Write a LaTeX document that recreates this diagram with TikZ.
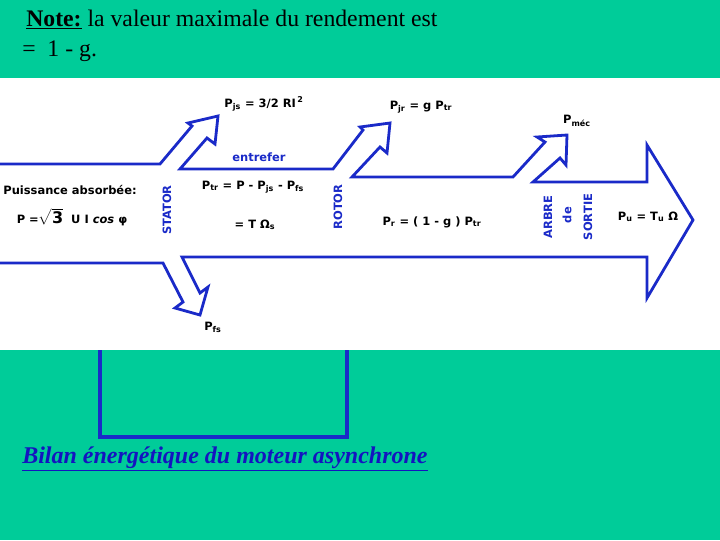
\documentclass[tikz,border=0pt]{standalone}
\usepackage{fontspec}
\setmainfont{Liberation Serif}
\newfontfamily\lblfont{DejaVu Sans}
\usetikzlibrary{positioning}
\definecolor{bgTeal}{HTML}{00CC99}
\definecolor{lineBlue}{HTML}{1A2AC8}
\definecolor{textBlue}{HTML}{1414C0}
\newcommand\idx[1]{\textsubscript{#1}}
\tikzset{
    NoteText/.style={font=\fontsize{17.8}{21}\selectfont, anchor=base west, inner sep=0pt},
    CaptionText/.style={font=\fontsize{18}{21}\selectfont\bfseries\itshape, text=textBlue, anchor=base west, inner sep=0pt},
    FormulaText/.style={font=\lblfont\fontsize{8.6}{10}\selectfont\bfseries, inner sep=0pt},
    PartText/.style={font=\lblfont\fontsize{8.6}{10}\selectfont\bfseries, text=lineBlue, inner sep=0pt},
    FlowLine/.style={draw=lineBlue, line width=2.1pt, line join=miter},
    FrameLine/.style={draw=lineBlue, line width=2.6pt}
}

\begin{document}
\begin{tikzpicture}[x=0.75pt, y=-0.75pt]
    \useasboundingbox (0,0) rectangle (720,540);
    \fill[bgTeal] (0,0) rectangle (720,540);

    % cadre sous le schema
    \draw[FrameLine] (100,340) -- (100,437) -- (347,437) -- (347,340);
    \fill[white] (0,78) rectangle (720,350);

    % remarque en haut
    \node[NoteText] (note1) at (26,26) {\underline{\textbf{Note:}} la valeur maximale du rendement est};
    \node[NoteText] (note2) at (22,56) {=\ \ 1 - g.};

    % contour de la grande fleche
    \draw[FlowLine] (0,164) -- (160,164) -- (192,126) -- (188,123) -- (218,116) -- (215,144) -- (207,138)
        -- (180,169) -- (333,169) -- (363,130) -- (360,127) -- (390,123) -- (387,153) -- (380,147)
        -- (352,177) -- (513,177) -- (545,142) -- (537,137) -- (567,135) -- (566,165) -- (560,158)
        -- (533,182) -- (647,182) -- (647,145) -- (693,220) -- (647,298) -- (647,257)
        -- (182,257) -- (200,293) -- (208,287) -- (200,315) -- (175,308) -- (183,302)
        -- (163,263) -- (0,263);

    % textes du bilan
    \node[FormulaText] (absorb) at (70,190) {Puissance absorbée:};
    \node[FormulaText] (pabs) at (72,217) {P =$\sqrt{\mbox{\lblfont\bfseries\large 3}}$\ \ U I \textit{cos} φ};
    \node[PartText, rotate=90] (stator) at (167,210) {STATOR};
    \node[PartText] (entrefer) at (259,157) {entrefer};
    \node[FormulaText] (ptr) at (253,187) {P\idx{tr} = P - P\idx{js} - P\idx{fs}};
    \node[FormulaText] (tomega) at (255,225) {= T Ω\idx{s}};
    \node[PartText, rotate=90] (rotor) at (338,207) {ROTOR};
    \node[FormulaText] (pr) at (432,222) {P\idx{r} = ( 1 - g ) P\idx{tr}};
    \node[PartText, rotate=90] (arbre) at (548,217) {ARBRE};
    \node[PartText, rotate=90] (de) at (567,215) {de};
    \node[PartText, rotate=90] (sortie) at (588,217) {SORTIE};
    \node[FormulaText] (pu) at (648,217) {P\idx{u} = T\idx{u} Ω};
    \node[FormulaText] (pmec) at (577,121) {P\idx{méc}};
    \node[FormulaText] (pjr) at (421,107) {P\idx{jr} = g P\idx{tr}};
    \node[FormulaText] (pjs) at (264,104) {P\idx{js} = 3/2 RI\textsuperscript{\,2}};
    \node[FormulaText] (pfs) at (213,327) {P\idx{fs}};

    % legende
    \node[CaptionText] (caption) at (22,463) {\underline{Bilan énergétique du moteur asynchrone}};
\end{tikzpicture}
\end{document}
